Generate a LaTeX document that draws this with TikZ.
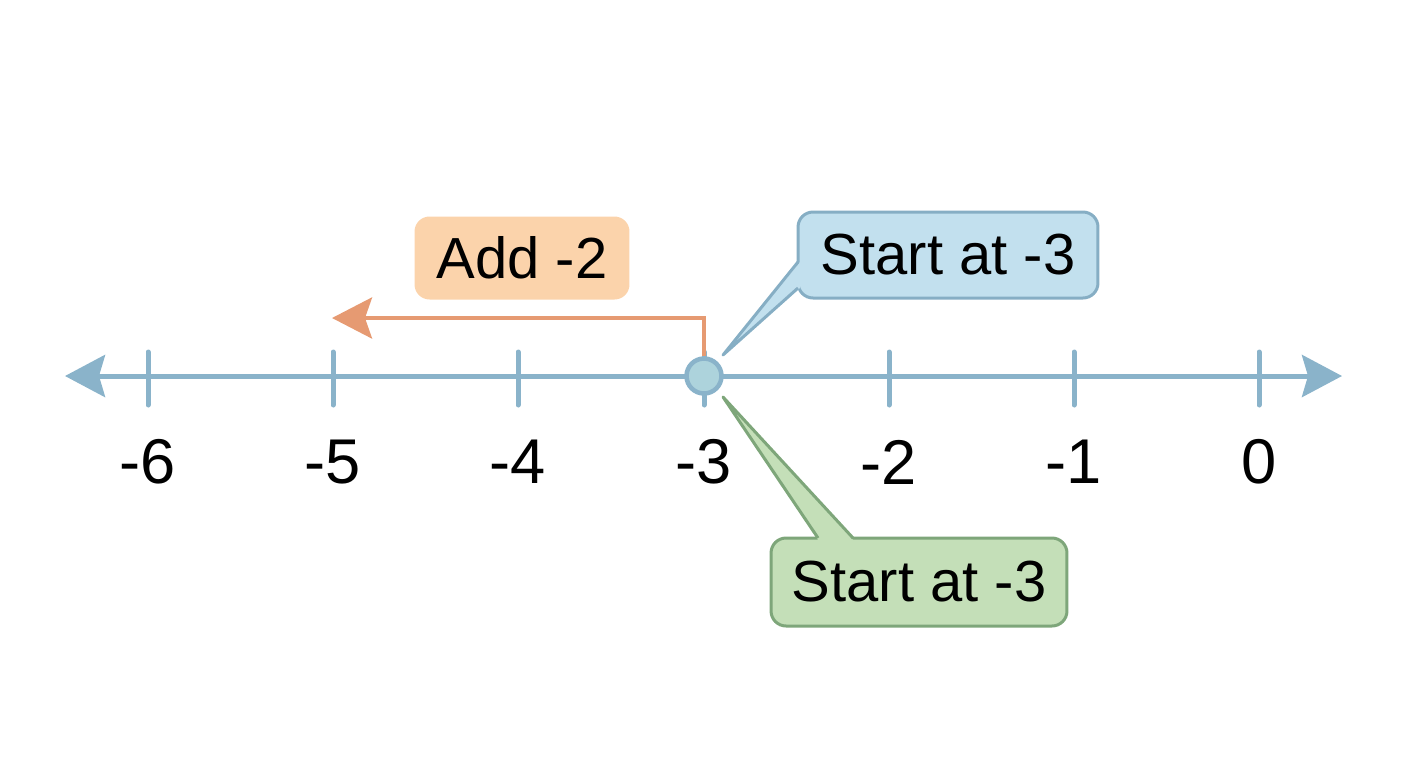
\documentclass[tikz,border=0pt]{standalone}
\usepackage{fontspec}
\setmainfont{Liberation Sans}
\usetikzlibrary{arrows.meta}

\definecolor{axisblue}{HTML}{8AB3CA}
\definecolor{dotfill}{HTML}{ADD3DC}
\definecolor{stepline}{HTML}{E69A72}
\definecolor{stepfill}{HTML}{FBD3AB}
\definecolor{bluefill}{HTML}{C2E0EE}
\definecolor{bluedraw}{HTML}{86AEC4}
\definecolor{greenfill}{HTML}{C4DFB8}
\definecolor{greendraw}{HTML}{7EA67A}

\tikzset{
  numline/.style={axisblue, line width=0.1cm},
  numtick/.style={axisblue, line width=0.1cm, line cap=round},
  numlabel/.style={font=\fontsize{36}{42}\selectfont},
  bubble/.style={rounded corners=0.3cm, line width=0.06cm, inner sep=0pt,
    font=\fontsize{33}{40}\selectfont},
}

\begin{document}
\begin{tikzpicture}[x=0.02cm, y=-0.02cm]

          \useasboundingbox (0, 0) rectangle (1408, 768);

          % the number line
          \coordinate (lft) at (65, 376);
          \coordinate (rgt) at (1342, 376);
          \draw[numline, {Stealth[length=0.8cm, width=0.84cm, inset=0.12cm]}-{Stealth[length=0.8cm, width=0.84cm, inset=0.12cm]}] (lft) -- (rgt);

          \draw[numtick] (148, 352) -- (148, 405);
          \draw[numtick] (333, 352) -- (333, 405);
          \draw[numtick] (518, 352) -- (518, 405);
          \draw[numtick] (704, 352) -- (704, 405);
          \draw[numtick] (889, 352) -- (889, 405);
          \draw[numtick] (1074, 352) -- (1074, 405);
          \draw[numtick] (1259, 352) -- (1259, 405);

          \node[numlabel] (m6) at (148, 462) {-6};
          \node[numlabel] (m5) at (333, 462) {-5};
          \node[numlabel] (m4) at (518, 462) {-4};
          \node[numlabel] (m3) at (704, 462) {-3};
          \node[numlabel] (m2) at (889, 462) {-2};
          \node[numlabel] (m1) at (1074, 462) {-1};
          \node[numlabel] (z0) at (1259, 462) {0};

          % the jump of -2
          \node[bubble, fill=stepfill, minimum width=4.3cm, minimum height=1.66cm] (add) at (522, 258) {Add -2};
          \coordinate (addend) at (332, 318);

          \node[circle, draw=axisblue, fill=dotfill, line width=0.09cm, minimum size=0.7cm, inner sep=0pt] (start) at (704, 376) {};
          \draw[stepline, line width=0.08cm, -{Stealth[length=0.8cm, width=0.82cm, inset=0.14cm]}] (start.north) |- (addend);

          % callouts
          \node[bubble, draw=bluedraw, fill=bluefill, minimum width=6cm, minimum height=1.72cm] (upper) at (948, 255) {Start at -3};
          \coordinate (uppertip) at (723, 355);
          \fill[bluefill] (800, 262) -- (uppertip) -- (800, 288) -- cycle;
          \draw[bluedraw, line width=0.06cm, line join=round] (798, 262) -- (uppertip) -- (798, 288);

          \node[bubble, draw=greendraw, fill=greenfill, minimum width=5.92cm, minimum height=1.76cm] (lower) at (919, 582) {Start at -3};
          \coordinate (lowertip) at (723, 397);
          \fill[greenfill] (818, 540) -- (lowertip) -- (853, 540) -- cycle;
          \draw[greendraw, line width=0.06cm, line join=round] (818, 538) -- (lowertip) -- (853, 538);

        \end{tikzpicture}
\end{document}
